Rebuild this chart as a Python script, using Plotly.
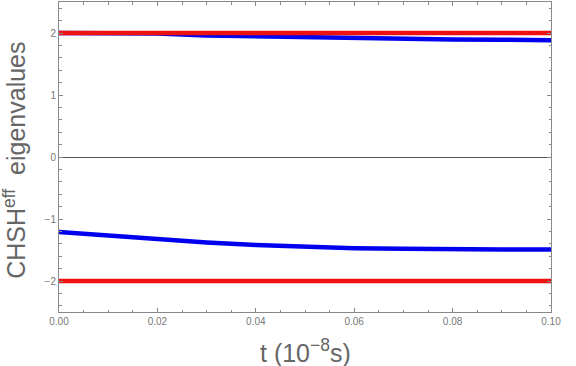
import plotly.graph_objects as go

# time in units of 1e-8 s
t = [0.00, 0.01, 0.02, 0.03, 0.04, 0.05, 0.06, 0.07, 0.08, 0.09, 0.10]

# effective CHSH eigenvalues
eig_upper = [2.00, 2.00, 1.99, 1.96, 1.945, 1.935, 1.92, 1.905, 1.895, 1.89, 1.885]
eig_lower = [-1.21, -1.27, -1.33, -1.38, -1.42, -1.45, -1.47, -1.48, -1.49, -1.49, -1.49]
bound_upper = [2.0] * len(t)
bound_lower = [-2.0] * len(t)

font = "Liberation Sans, Arial, sans-serif"
axis_col = "#888888"
text_col = "#777777"
title_col = "#666666"

fig = go.Figure()
for y in (eig_upper, eig_lower):
    fig.add_trace(go.Scatter(x=t, y=y, mode="lines",
                             line=dict(color="#0000ee", width=4.5)))
for y in (bound_upper, bound_lower):
    fig.add_trace(go.Scatter(x=t, y=y, mode="lines",
                             line=dict(color="#ee1111", width=4.5)))

common = dict(
    showline=True, linecolor=axis_col, linewidth=1, mirror="ticks",
    ticks="inside", ticklen=4, tickcolor=axis_col, tickwidth=1,
    showgrid=False, automargin=False,
    tickfont=dict(family=font, size=10, color=text_col),
)

fig.update_xaxes(
    range=[0, 0.1], tickvals=[0, 0.02, 0.04, 0.06, 0.08, 0.1],
    tickformat=".2f", zeroline=False,
    minor=dict(dtick=0.005, ticks="inside", ticklen=2.5, tickcolor=axis_col,
               showgrid=False),
    **common,
)
fig.update_yaxes(
    range=[-2.5, 2.5], tickvals=[-2, -1, 0, 1, 2],
    zeroline=True, zerolinecolor="#555555", zerolinewidth=1,
    minor=dict(dtick=0.2, ticks="inside", ticklen=2.5, tickcolor=axis_col,
               showgrid=False),
    **common,
)

# axis titles as annotations, placed in paper coordinates
fig.add_annotation(text="t (10<sup>−8</sup>s)", xref="paper", yref="paper",
                   x=0.5, y=-0.125, xanchor="center", yanchor="middle",
                   showarrow=False,
                   font=dict(family=font, size=25, color=title_col))
fig.add_annotation(text="CHSH<sup>eff</sup>  eigenvalues", xref="paper", yref="paper",
                   x=-0.09, y=0.49, xanchor="center", yanchor="middle",
                   textangle=-90, showarrow=False,
                   font=dict(family=font, size=25, color=title_col))

fig.update_layout(
    width=576, height=366,
    margin=dict(l=59, r=25, t=2, b=54),
    showlegend=False,
    plot_bgcolor="white", paper_bgcolor="white",
    font=dict(family=font),
)

fig.write_html("out.html", config={"displayModeBar": False},
               post_script="document.body.style.margin='0';document.body.style.overflow='hidden';")
